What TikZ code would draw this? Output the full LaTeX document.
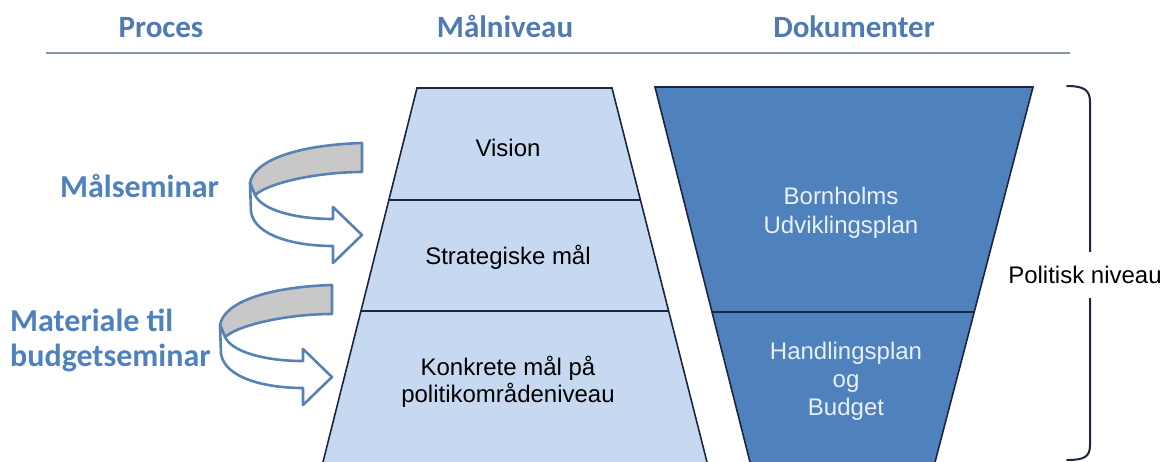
\documentclass[tikz,border=0pt]{standalone}
\usepackage{fontspec}
\setmainfont{Liberation Sans}
\newfontfamily\calfont{Carlito}
\usetikzlibrary{calc}
\definecolor{hdr}{RGB}{80,122,178}
\definecolor{lbl}{RGB}{79,129,189}
\definecolor{lightfill}{RGB}{198,217,241}
\definecolor{darkfill}{RGB}{79,129,189}
\definecolor{navy}{RGB}{28,38,64}
\definecolor{arrowline}{RGB}{88,130,180}
\definecolor{bandgray}{RGB}{200,200,200}
\definecolor{softwhite}{RGB}{232,240,250}
\definecolor{rulegray}{RGB}{132,150,176}
\newcommand\mycurvearrow[2]{%
  \begin{scope}[shift={(#1,#2)}]
    \draw[arrowshape,fill=bandgray] (362,143) .. controls (298,145) and (254,160) .. (250,183)
      -- (255,195) .. controls (270,182) and (320,172) .. (362,172) -- cycle;
    \draw[arrowshape,fill=white] (255,195) -- (250,183) -- (251,212)
      .. controls (255,236) and (295,246) .. (333,246) -- (333,263) -- (362,235)
      -- (333,207) -- (333,219) .. controls (295,219) and (262,210) .. (255,195) -- cycle;
  \end{scope}}
\begin{document}
\begin{tikzpicture}[x=1pt,y=-1pt,
  hdrtext/.style={font=\calfont\bfseries\fontsize{31}{36}\selectfont,text=hdr,inner sep=0pt,anchor=base},
  lbltext/.style={font=\calfont\bfseries\fontsize{32}{36}\selectfont,text=lbl,inner sep=0pt,anchor=base west},
  bodytext/.style={font=\fontsize{24}{27}\selectfont,align=center,inner sep=0pt},
  trap/.style={draw=navy,line width=1.6pt,line join=miter},
  divider/.style={draw=navy,line width=1.8pt},
  arrowshape/.style={draw=arrowline,line width=2.6pt,line join=round}]
\useasboundingbox (0,0) rectangle (1168,461);
\fill[white] (0,0) rectangle (1168,461);

% header
\node[hdrtext] (hproc) at (161,37) {Proces};
\node[hdrtext] (hmaal) at (505,37) {Målniveau};
\node[hdrtext] (hdok) at (854,37) {Dokumenter};
\draw[rulegray,line width=2pt] (46,53) -- (1070,53);

% left trapezoid
\draw[trap,fill=lightfill] (417,88) -- (612,88) -- (708,466) -- (322,466) -- cycle;
\draw[divider] (389,200) -- (640.5,200);
\draw[divider] (361,311) -- (668,311);
\node[bodytext] (vision) at (508,148) {Vision};
\node[bodytext] (strat) at (508,257) {Strategiske mål};
\node[bodytext] (konk) at (508,382) {Konkrete mål på\\politikområdeniveau};

% right trapezoid
\draw[trap,fill=darkfill] (655,87) -- (1033,87) -- (934,466) -- (751,466) -- cycle;
\draw[divider] (712,312) -- (974,312);
\node[bodytext,font=\fontsize{24}{29}\selectfont,text=softwhite] (born) at (841,213) {Bornholms\\Udviklingsplan};
\node[bodytext,font=\fontsize{24}{28}\selectfont,text=softwhite] (handl) at (846,381) {Handlingsplan\\og\\Budget};

% brace
\draw[navy,line width=2pt,line cap=round] (1067,86) .. controls (1084,86) and (1090,90) .. (1090,102)
  -- (1090,445) .. controls (1090,457) and (1084,460) .. (1067,460);
\node[font=\fontsize{24}{28}\selectfont,fill=white,inner xsep=2pt,minimum height=46pt] (polit) at (1085,275) {Politisk niveau};

% process labels
\node[lbltext] (maalsem) at (60,197) {Målseminar};
\node[lbltext] (mat1) at (10,331) {Materiale til};
\node[lbltext] (mat2) at (10,366) {budgetseminar};

% curved arrows
\mycurvearrow{0}{0}
\mycurvearrow{-30}{142}
\end{tikzpicture}
\end{document}
